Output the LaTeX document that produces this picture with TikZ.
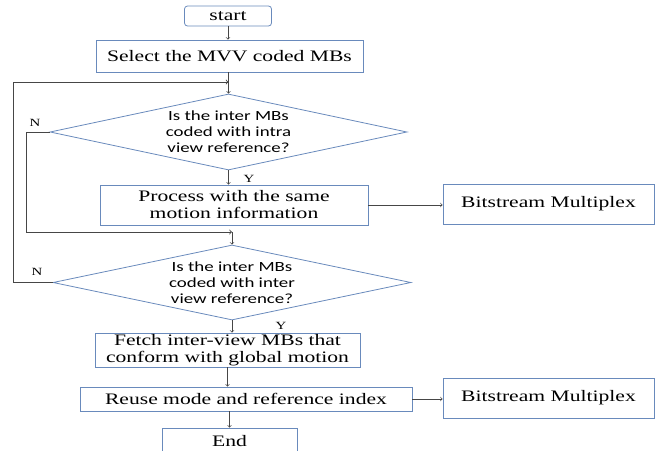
\documentclass[tikz,border=0pt]{standalone}
\usepackage{fontspec}
\setmainfont{Liberation Serif}[FakeStretch=1.35]
\newfontfamily\diafont{Carlito}[FakeStretch=1.35]
\usepackage{tikz}
\usetikzlibrary{shapes.geometric}
\definecolor{boxblue}{RGB}{105,138,188}
\definecolor{linegray}{RGB}{70,70,70}
\newcommand{\boxfont}{\fontsize{16}{17}\selectfont}
\newcommand{\qfont}{\diafont\fontsize{14}{16}\selectfont}

\begin{document}
\begin{tikzpicture}[x=1pt,y=-1pt]
\tikzset{block/.style = {shape=rectangle,draw=boxblue,line width=0.8pt,inner sep=0pt,align=center,font=\boxfont}}
\tikzset{decision/.style = {shape=diamond,draw=boxblue,line width=0.8pt,inner sep=0pt,shape aspect=4.7,align=center,font=\qfont}}
\tikzset{edge/.style = {->,> = to,draw=linegray,line width=0.7pt}}
\tikzset{loopline/.style = {->,> = to,draw=linegray,line width=0.9pt}}
\tikzset{answer/.style = {inner sep=0pt,font=\fontsize{11}{12}\selectfont}}
\useasboundingbox (0,0) rectangle (656,450);
\clip (0,0) rectangle (656,450);
% vertices
\node[block,rounded corners=3pt,minimum width=87pt,minimum height=20pt] (start) at (228,16) {start};
\node[block,minimum width=267pt,minimum height=32pt] (select) at (229.5,56) {Select the MVV coded MBs};
\node[decision,minimum width=357pt,minimum height=76pt] (dia1) at (228.5,132) {Is the inter MBs\\coded with intra\\view reference?};
\node[block,minimum width=268pt,minimum height=40pt] (proc) at (234,205) {Process with the same\\motion information};
\node[block,minimum width=211pt,minimum height=40pt] (bit1) at (548.5,204) {Bitstream Multiplex};
\node[decision,minimum width=358pt,minimum height=75pt] (dia2) at (232,282.5) {Is the inter MBs\\coded with inter\\view reference?};
\node[block,minimum width=265pt,minimum height=34pt] (fetch) at (227.5,350) {Fetch inter-view MBs that\\conform with global motion};
\node[block,minimum width=332pt,minimum height=24pt] (reuse) at (246,399) {Reuse mode and reference index};
\node[block,minimum width=211pt,minimum height=40pt] (bit2) at (548.5,398) {Bitstream Multiplex};
\node[block,minimum width=135pt,minimum height=26pt] (end) at (229.5,441) {End};

% labels
\node[answer] (y1) at (249,179) {Y};
\node[answer] (y2) at (281,326) {Y};
\node[answer] (n1) at (35,123) {N};
\node[answer] (n2) at (37,272) {N};

% joints of the loops
\coordinate (j1) at (228.5,82);
\coordinate (j2) at (232,232);
\coordinate (lft1) at (13,82);
\coordinate (lft2) at (26,232);

%edges
\draw[edge] (start.south) -- (start.south |- select.north);
\draw[edge] (select.south -| dia1.north) -- (dia1.north);
\draw[edge] (dia1.south) -- (dia1.south |- proc.north);
\draw[edge] (proc.east) -- (proc.east -| bit1.west);
\draw[edge] (j2) -- (dia2.north);
\draw[edge] (dia2.south) -- (dia2.south |- fetch.north);
\draw[edge] (fetch.south) -- (fetch.south |- reuse.north);
\draw[edge] (reuse.east) -- (reuse.east -| bit2.west);
\draw[edge] (reuse.south -| end.north) -- (end.north);
\draw[loopline] (dia1.west) -| (lft2) -- (j2);
\draw[loopline] (dia2.west) -| (lft1) -- (j1);
\end{tikzpicture}
\end{document}
